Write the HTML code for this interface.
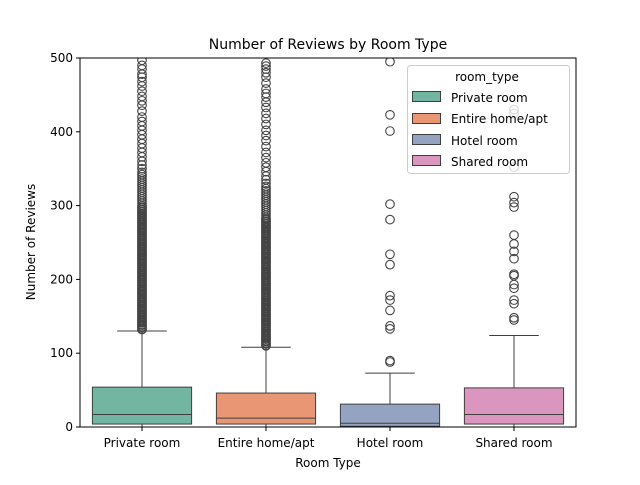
<!DOCTYPE html>
<html><head><meta charset="utf-8"><style>
body{margin:0;background:#fff}
svg text{font-family:"DejaVu Sans","Liberation Sans",sans-serif;fill:#000}
</style></head><body>
<svg id="c" width="640" height="480" xmlns="http://www.w3.org/2000/svg">
<rect width="640" height="480" fill="#fff"/>
<g id="plot"></g>
<text x="328" y="49" font-size="14" text-anchor="middle">Number of Reviews by Room Type</text>
<text x="328" y="467" font-size="12" text-anchor="middle">Room Type</text>
<text transform="translate(35,242) rotate(-90)" font-size="12" text-anchor="middle">Number of Reviews</text>
<g>
<rect x="407.5" y="65.5" width="162" height="108" rx="3" fill="#fff" fill-opacity="0.8" stroke="#ccc"/>
<text x="487" y="81" font-size="12" text-anchor="middle">room_type</text>
<g><rect x="412.5" y="91.5" width="28" height="10" fill="#72b6a1" stroke="#3f3f3f"/><text x="451" y="102" font-size="12">Private room</text></g>
<g><rect x="412.5" y="113.5" width="28" height="10" fill="#e99675" stroke="#3f3f3f"/><text x="451" y="123" font-size="12">Entire home/apt</text></g>
<g><rect x="412.5" y="134.5" width="28" height="10" fill="#95a3c3" stroke="#3f3f3f"/><text x="451" y="145" font-size="12">Hotel room</text></g>
<g><rect x="412.5" y="155.5" width="28" height="10" fill="#db96c0" stroke="#3f3f3f"/><text x="451" y="166" font-size="12">Shared room</text></g>
</g>
</svg>
<script>
const categories=["Private room","Entire home/apt","Hotel room","Shared room"];
const colors=["#72b6a1","#e99675","#95a3c3","#db96c0"];
const whiskerLow=[0,0,0,0];
const q1=[4,4,1,4];
const median=[17,12,5,17];
const q3=[54,46,31,53];
const whiskerHigh=[130,108,73,124];
const outliersPrivate=[132,133,135,136,138,139,141,142,144,145,147,148,150,151,153,154,156,157,159,160,162,163,165,166,168,169,171,172,174,175,177,178,180,181,183,184,186,187,189,190,192,193,195,196,198,199,201,202,204,205,207,208,210,211,213,214,216,217,219,220,222,223,225,226,228,229,231,232,234,235,237,238,240,241,243,244,246,247,249,250,252,253,255,256,258,259,261,262,264,265,267,268,270,271,273,274,276,277,279,280,282,283,285,286,288,289,291,292,294,295,297,298,300,303,306,309,312,315,318,321,324,327,330,333,336,339,342,345,350,355,360,366,372,378,384,390,396,402,408,414,420,428,436,442,448,455,462,468,474,478,485,490,497];
const outliersEntire=[110,111,113,114,116,117,119,120,122,123,125,126,128,129,131,132,134,135,137,138,140,141,143,144,146,147,149,150,152,153,155,156,158,159,161,162,164,165,167,168,170,171,173,174,176,177,179,180,182,183,185,186,188,189,191,192,194,195,197,198,200,201,203,204,206,207,209,210,212,213,215,216,218,219,221,222,224,225,227,228,230,231,233,234,236,237,239,240,242,243,245,246,248,249,251,252,254,255,257,258,260,261,263,264,266,267,269,270,272,273,275,276,278,279,281,282,284,287,290,293,296,299,302,305,308,311,314,317,320,323,326,330,335,340,346,352,358,365,372,380,388,395,402,410,418,425,433,440,447,452,458,466,474,480,485,489,493];
const outliersHotel=[495,423,401,302,281,234,220,178,172,158,137,133,90,88];
const outliersShared=[430,425,352,312,304,298,260,248,238,228,207,205,193,188,172,167,148,145];
const outliers=[outliersPrivate,outliersEntire,outliersHotel,outliersShared];
const yTicks=[0,100,200,300,400,500];

const X0=80,X1=576,Y0=427,Y1=58,YMAX=500;
const y=v=>Y0-(v/YMAX)*(Y0-Y1);
const band=(X1-X0)/categories.length;
const cx=i=>X0+band*(i+0.5);
const NS="http://www.w3.org/2000/svg";
const plot=document.getElementById('plot');
function mk(t,a,p){const e=document.createElementNS(NS,t);for(const k in a)e.setAttribute(k,a[k]);(p||plot).appendChild(e);return e;}
const clip=mk('clipPath',{id:'cl'});mk('rect',{x:X0,y:Y1,width:X1-X0,height:Y0-Y1},clip);
const g=mk('g',{'clip-path':'url(#cl)'});
const bw=band*0.8;
categories.forEach((c,i)=>{
  const x=cx(i);
  const grp=mk('g',{},g);
  
  
  mk('line',{x1:x,x2:x,y1:y(q3[i]),y2:y(whiskerHigh[i]),stroke:'#3f3f3f','stroke-width':1},grp);
  mk('line',{x1:x,x2:x,y1:y(q1[i]),y2:y(whiskerLow[i]),stroke:'#3f3f3f','stroke-width':1},grp);
  mk('line',{x1:x-bw/4,x2:x+bw/4,y1:y(whiskerHigh[i]),y2:y(whiskerHigh[i]),stroke:'#3f3f3f'},grp);
  mk('line',{x1:x-bw/4,x2:x+bw/4,y1:y(whiskerLow[i]),y2:y(whiskerLow[i]),stroke:'#3f3f3f'},grp);
  mk('rect',{x:x-bw/2,y:y(q3[i]),width:bw,height:y(q1[i])-y(q3[i]),fill:colors[i],stroke:'#3f3f3f'},grp);
  mk('line',{x1:x-bw/2,x2:x+bw/2,y1:y(median[i]),y2:y(median[i]),stroke:'#3f3f3f'},grp);
  outliers[i].forEach(v=>{
    const o=mk('circle',{cx:x,cy:y(v),r:4.3,fill:'none',stroke:'#444','stroke-width':1.1},grp);
    
    
  });
  const t=mk('text',{x:x,y:447,'font-size':12,'text-anchor':'middle'});
  t.textContent=c;
  
  
  mk('line',{x1:x,x2:x,y1:Y0,y2:Y0+4,stroke:'#000'});
});
yTicks.forEach(v=>{
  mk('line',{x1:X0-4,x2:X0,y1:y(v),y2:y(v),stroke:'#000'});
  const t=mk('text',{x:X0-7,y:y(v)+4,'font-size':12,'text-anchor':'end'});
  t.textContent=v;
  
  
});
const fr=mk('rect',{x:X0,y:Y1,width:X1-X0,height:Y0-Y1,fill:'none',stroke:'#000','stroke-width':1});


</script>
</body></html>
